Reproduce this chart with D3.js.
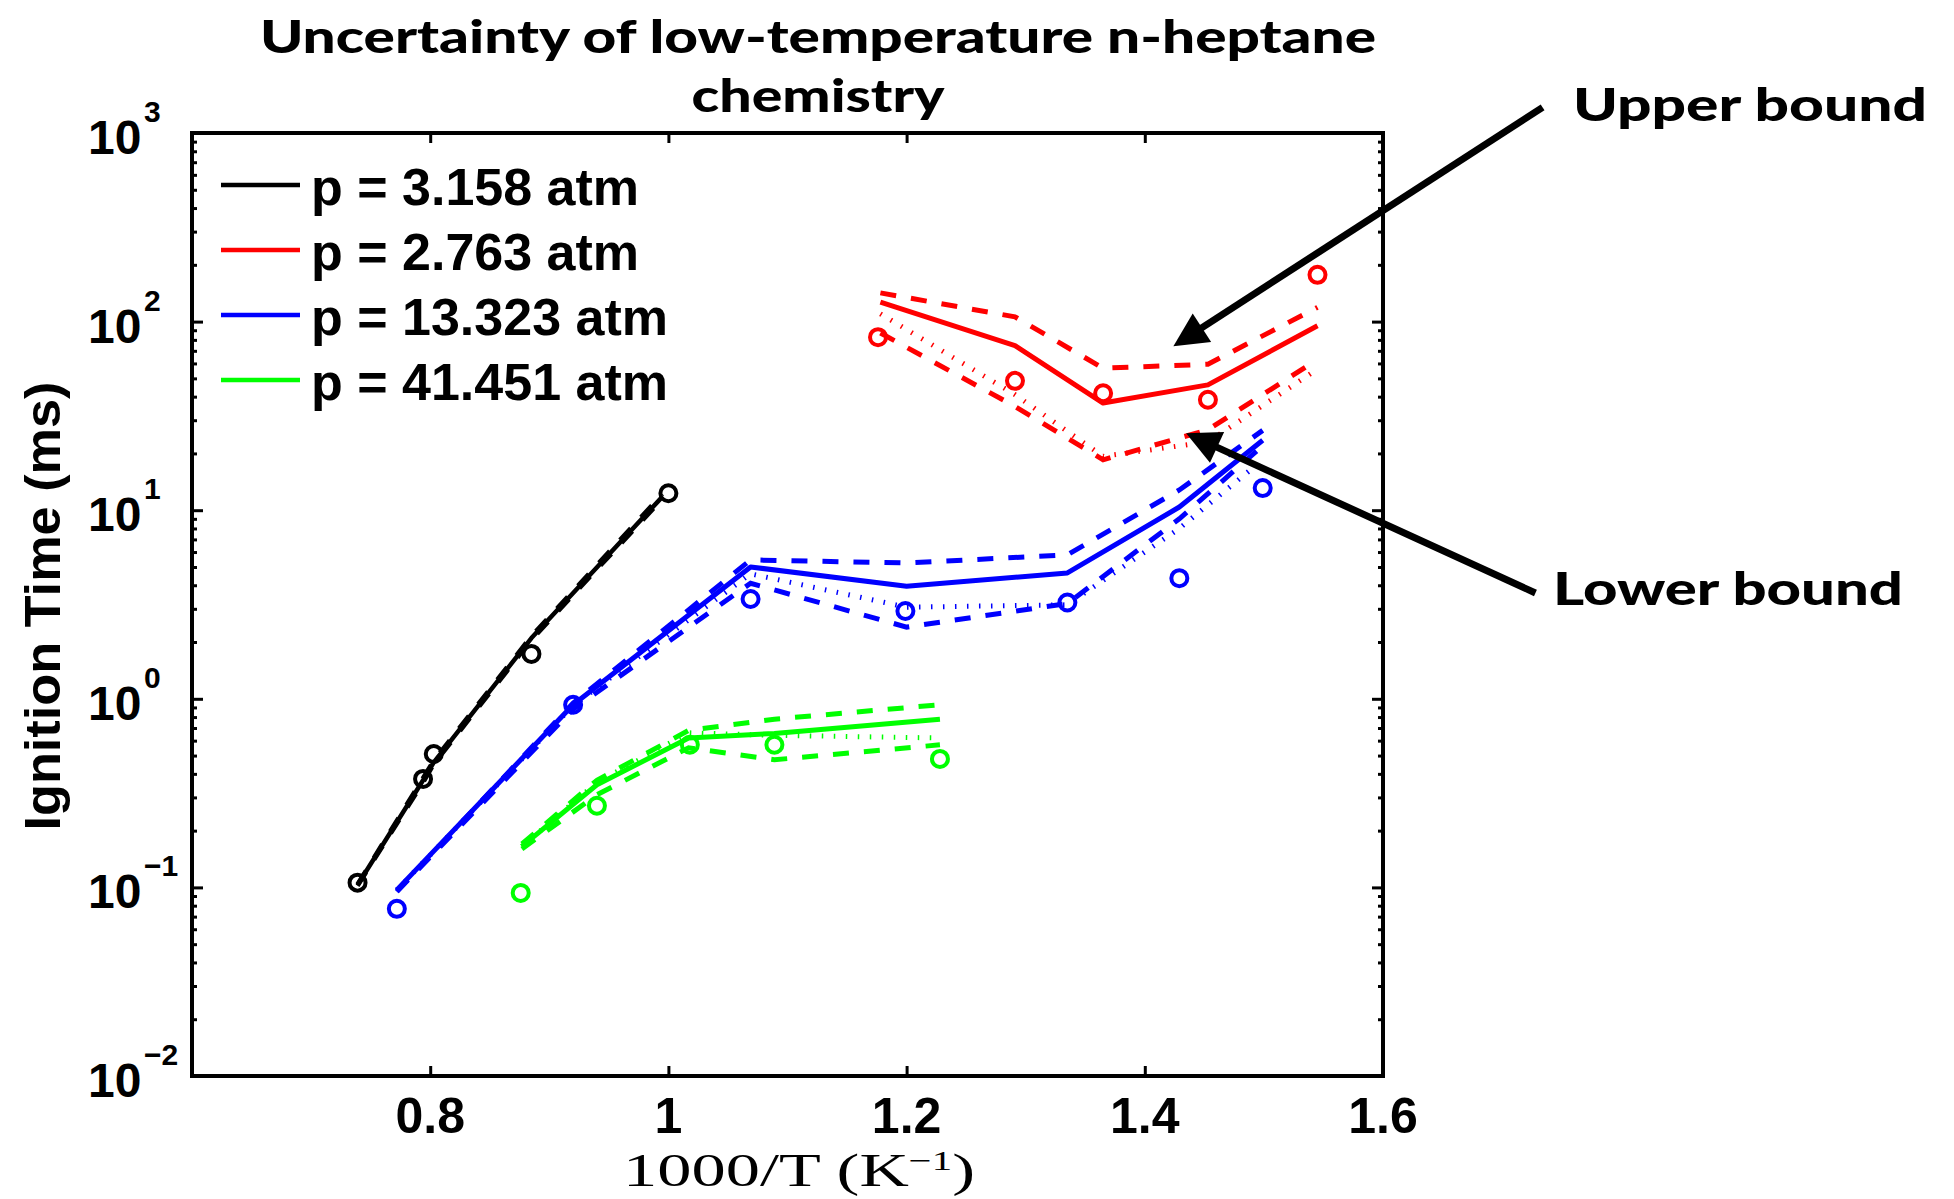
<!DOCTYPE html>
<html lang="en">
<head>
<meta charset="UTF-8">
<title>Uncertainty of low-temperature n-heptane chemistry</title>
<script src="https://d3js.org/d3.v7.min.js"></script>
<style>
  body { margin: 0; background: #fff; }
</style>
</head>
<body>
<div id="chart"></div>
<script>
// ---- data ----
const xTicks = [0.8, 1, 1.2, 1.4, 1.6];
const yExponents = [-2, -1, 0, 1, 2, 3];
const legendLabels = ["p = 3.158 atm", "p = 2.763 atm", "p = 13.323 atm", "p = 41.451 atm"];
const seriesColors = ["#000000", "#ff0000", "#0000ff", "#00ff00"];

// p = 3.158 atm
const blackExpX = [0.739, 0.794, 0.803, 0.885, 1.0];
const blackExpY = [0.106, 0.376, 0.51, 1.73, 12.3];
const blackModelX = [0.739, 0.794, 0.803, 0.885, 0.995];
const blackNominal = [0.103, 0.37, 0.46, 2.1, 11.8];
const blackUpper = [0.104, 0.38, 0.47, 2.15, 12.2];
const blackLower = [0.102, 0.36, 0.45, 2.05, 11.5];

// p = 2.763 atm
const redExpX = [1.176, 1.291, 1.365, 1.453, 1.545];
const redExpY = [82.7, 48.5, 41.7, 38.5, 177];
const redModelX = [1.178, 1.291, 1.365, 1.453, 1.545];
const redNominal = [127, 74.6, 37, 46.2, 95];
const redUpper = [142, 106, 56.6, 59.4, 119];
const redLower = [87, 35.5, 18.5, 26.7, 63];
const redDotted = [110, 41, 19.3, 23, 56];

// p = 13.323 atm
const blueExpX = [0.772, 0.920, 1.069, 1.199, 1.335, 1.429, 1.499];
const blueExpY = [0.077, 0.93, 3.38, 2.92, 3.24, 4.36, 13.1];
const blueModelX = [0.772, 0.92, 1.069, 1.2, 1.335, 1.429, 1.499];
const blueNominal = [0.097, 0.93, 5.0, 3.95, 4.65, 10.4, 23.5];
const blueUpper = [0.095, 0.95, 5.45, 5.25, 5.8, 12.8, 26.5];
const blueLower = [0.095, 0.88, 4.1, 2.4, 3.2, 9.0, 22];
const blueDotted = [0.097, 0.92, 4.6, 3.06, 3.15, 8.0, 18.5];

// p = 41.451 atm
const greenExpX = [0.876, 0.940, 1.018, 1.089, 1.228];
const greenExpY = [0.0935, 0.271, 0.571, 0.571, 0.48];
const greenModelX = [0.877, 0.94, 1.017, 1.089, 1.228];
const greenNominal = [0.165, 0.35, 0.62, 0.655, 0.78];
const greenUpper = [0.17, 0.37, 0.68, 0.78, 0.93];
const greenLower = [0.16, 0.31, 0.55, 0.475, 0.57];
const greenDotted = [0.165, 0.36, 0.66, 0.64, 0.62];

// annotation arrows: [tailX, tailY, tipX, tipY] in data units
const upperArrow = [1.734, 1367, 1.424, 74.1];
const lowerArrow = [1.728, 3.64, 1.4347, 25.6];

// ---- layout ----
const W = 1954, H = 1199;
const margin = { top: 133, left: 192, right: 571, bottom: 123 };
const plotW = W - margin.left - margin.right;
const plotH = H - margin.top - margin.bottom;

const xScale = d3.scaleLinear().domain([0.6, 1.6]).range([margin.left, margin.left + plotW]);
const yScale = d3.scaleLog().domain([0.01, 1000]).range([margin.top + plotH, margin.top]);

const svg = d3.select("#chart").append("svg")
  .attr("width", W).attr("height", H)
  .style("font-family", "'Liberation Sans', Arial, sans-serif");

const sans = "'Liberation Sans', Arial, sans-serif";
const gill = "Lato, 'Open Sans', sans-serif";

// title
svg.append("text").attr("x", 818).attr("y", 53).attr("text-anchor", "middle")
  .style("font-family", gill).style("font-weight", 900).style("font-size", "46px")
  .attr("textLength", 1116).attr("lengthAdjust", "spacingAndGlyphs")
  .text("Uncertainty of low-temperature n-heptane");
svg.append("text").attr("x", 818).attr("y", 112).attr("text-anchor", "middle")
  .style("font-family", gill).style("font-weight", 900).style("font-size", "46px")
  .attr("textLength", 253).attr("lengthAdjust", "spacingAndGlyphs")
  .text("chemistry");

// ticks via d3 axes (inward)
const minorTicks = [];
yExponents.slice(0, -1).forEach(e => {
  for (let m = 2; m <= 9; m++) minorTicks.push(m * Math.pow(10, e));
});
const majorY = yExponents.map(e => Math.pow(10, e));

function tickAxis(axis, transform) {
  const g = svg.append("g").attr("transform", transform).call(axis);
  g.select(".domain").remove();
  g.selectAll(".tick line").attr("stroke", "#000").attr("stroke-width", 3);
  g.selectAll(".tick text").remove();
}
tickAxis(d3.axisBottom(xScale).tickValues(xTicks).tickSize(-10), `translate(0,${margin.top + plotH})`);
tickAxis(d3.axisTop(xScale).tickValues(xTicks).tickSize(-10), `translate(0,${margin.top})`);
tickAxis(d3.axisLeft(yScale).tickValues(majorY).tickSize(-11), `translate(${margin.left},0)`);
tickAxis(d3.axisRight(yScale).tickValues(majorY).tickSize(-11), `translate(${margin.left + plotW},0)`);
tickAxis(d3.axisLeft(yScale).tickValues(minorTicks).tickSize(-5), `translate(${margin.left},0)`);
tickAxis(d3.axisRight(yScale).tickValues(minorTicks).tickSize(-5), `translate(${margin.left + plotW},0)`);

// frame
svg.append("rect")
  .attr("x", margin.left).attr("y", margin.top)
  .attr("width", plotW).attr("height", plotH)
  .attr("fill", "none").attr("stroke", "#000").attr("stroke-width", 4);

// x tick labels
svg.append("g").selectAll("text").data(xTicks).join("text")
  .attr("x", d => xScale(d)).attr("y", 1133).attr("text-anchor", "middle")
  .style("font-family", sans).style("font-weight", "bold").style("font-size", "50px")
  .text(d => d3.format("~g")(d));

// y tick labels 10^e
const yLab = svg.append("g").selectAll("g").data(yExponents).join("g");
yLab.append("text")
  .attr("x", 88).attr("y", d => yScale(Math.pow(10, d)) + 21)
  .style("font-family", sans).style("font-weight", "bold").style("font-size", "48px")
  .text("10");
yLab.append("text")
  .attr("x", 144).attr("y", d => yScale(Math.pow(10, d)) - 11)
  .style("font-family", sans).style("font-weight", "bold").style("font-size", "30px")
  .text(d => d < 0 ? "\u2212" + (-d) : String(d));

// axis labels
svg.append("text")
  .attr("transform", "translate(60,606) rotate(-90)")
  .attr("text-anchor", "middle")
  .style("font-family", sans).style("font-weight", "bold").style("font-size", "50px")
  .attr("textLength", 449).attr("lengthAdjust", "spacingAndGlyphs")
  .text("Ignition Time (ms)");

const xl = svg.append("text").attr("x", 799).attr("y", 1186).attr("text-anchor", "middle")
  .style("font-family", "'Liberation Serif', 'DejaVu Serif', serif").style("font-size", "47px")
  .attr("textLength", 352).attr("lengthAdjust", "spacingAndGlyphs");
xl.append("tspan").text("1000/T (K");
xl.append("tspan").attr("dy", -16).style("font-size", "28px").text("\u22121");
xl.append("tspan").attr("dy", 16).text(")");

// ---- series ----
const line = d3.line().x(d => xScale(d[0])).y(d => yScale(d[1]));
const zip = (xs, ys) => xs.map((x, i) => [x, ys[i]]);

const groups = [
  { color: seriesColors[0], mx: blackModelX, nominal: blackNominal, upper: blackUpper, lower: blackLower, dotted: null, ex: blackExpX, ey: blackExpY, w: 4.5 },
  { color: seriesColors[1], mx: redModelX, nominal: redNominal, upper: redUpper, lower: redLower, dotted: redDotted, ex: redExpX, ey: redExpY, w: 5 },
  { color: seriesColors[2], mx: blueModelX, nominal: blueNominal, upper: blueUpper, lower: blueLower, dotted: blueDotted, ex: blueExpX, ey: blueExpY, w: 5 },
  { color: seriesColors[3], mx: greenModelX, nominal: greenNominal, upper: greenUpper, lower: greenLower, dotted: greenDotted, ex: greenExpX, ey: greenExpY, w: 5 }
];

groups.forEach(s => {
  const g = svg.append("g");
  if (s.dotted) {
    g.append("path").datum(zip(s.mx, s.dotted)).attr("d", line)
      .attr("fill", "none").attr("stroke", s.color).attr("stroke-width", 5)
      .attr("stroke-dasharray", "1.5,10.5");
  }
  [s.upper, s.lower].forEach(vals => {
    g.append("path").datum(zip(s.mx, vals)).attr("d", line)
      .attr("fill", "none").attr("stroke", s.color).attr("stroke-width", s.w)
      .attr("stroke-dasharray", "16,15");
  });
  g.append("path").datum(zip(s.mx, s.nominal)).attr("d", line)
    .attr("fill", "none").attr("stroke", s.color).attr("stroke-width", s.w)
    .attr("stroke-linejoin", "round");
  g.selectAll("circle").data(zip(s.ex, s.ey)).join("circle")
    .attr("cx", d => xScale(d[0])).attr("cy", d => yScale(d[1])).attr("r", 8)
    .attr("fill", "none").attr("stroke", s.color).attr("stroke-width", 4);
});

// legend
const leg = svg.append("g").selectAll("g").data(legendLabels).join("g")
  .attr("transform", (d, i) => `translate(0,${205 + i * 65})`);
leg.append("line").attr("x1", 221).attr("x2", 300).attr("y1", -20).attr("y2", -20)
  .attr("stroke", (d, i) => seriesColors[i]).attr("stroke-width", 4.5);
leg.append("text").attr("x", 311).attr("y", 0)
  .style("font-family", sans).style("font-weight", "bold").style("font-size", "52px")
  .text(d => d);

// annotations
function arrow(a) {
  const x0 = xScale(a[0]), y0 = yScale(a[1]), x1 = xScale(a[2]), y1 = yScale(a[3]);
  const dx = x1 - x0, dy = y1 - y0, len = Math.hypot(dx, dy);
  const ux = dx / len, uy = dy / len, hl = 34, hw = 17;
  const bx = x1 - ux * hl, by = y1 - uy * hl;
  svg.append("line").attr("x1", x0).attr("y1", y0).attr("x2", bx + ux * 4).attr("y2", by + uy * 4)
    .attr("stroke", "#000").attr("stroke-width", 7);
  svg.append("path")
    .attr("d", `M${x1},${y1}L${bx - uy * hw},${by + ux * hw}L${bx + uy * hw},${by - ux * hw}Z`)
    .attr("fill", "#000");
}
arrow(upperArrow);
arrow(lowerArrow);

svg.append("text").attr("x", 1573).attr("y", 121)
  .style("font-family", gill).style("font-weight", 900).style("font-size", "46px")
  .attr("textLength", 354).attr("lengthAdjust", "spacingAndGlyphs")
  .text("Upper bound");
svg.append("text").attr("x", 1553).attr("y", 605)
  .style("font-family", gill).style("font-weight", 900).style("font-size", "46px")
  .attr("textLength", 350).attr("lengthAdjust", "spacingAndGlyphs")
  .text("Lower bound");
</script>
</body>
</html>
